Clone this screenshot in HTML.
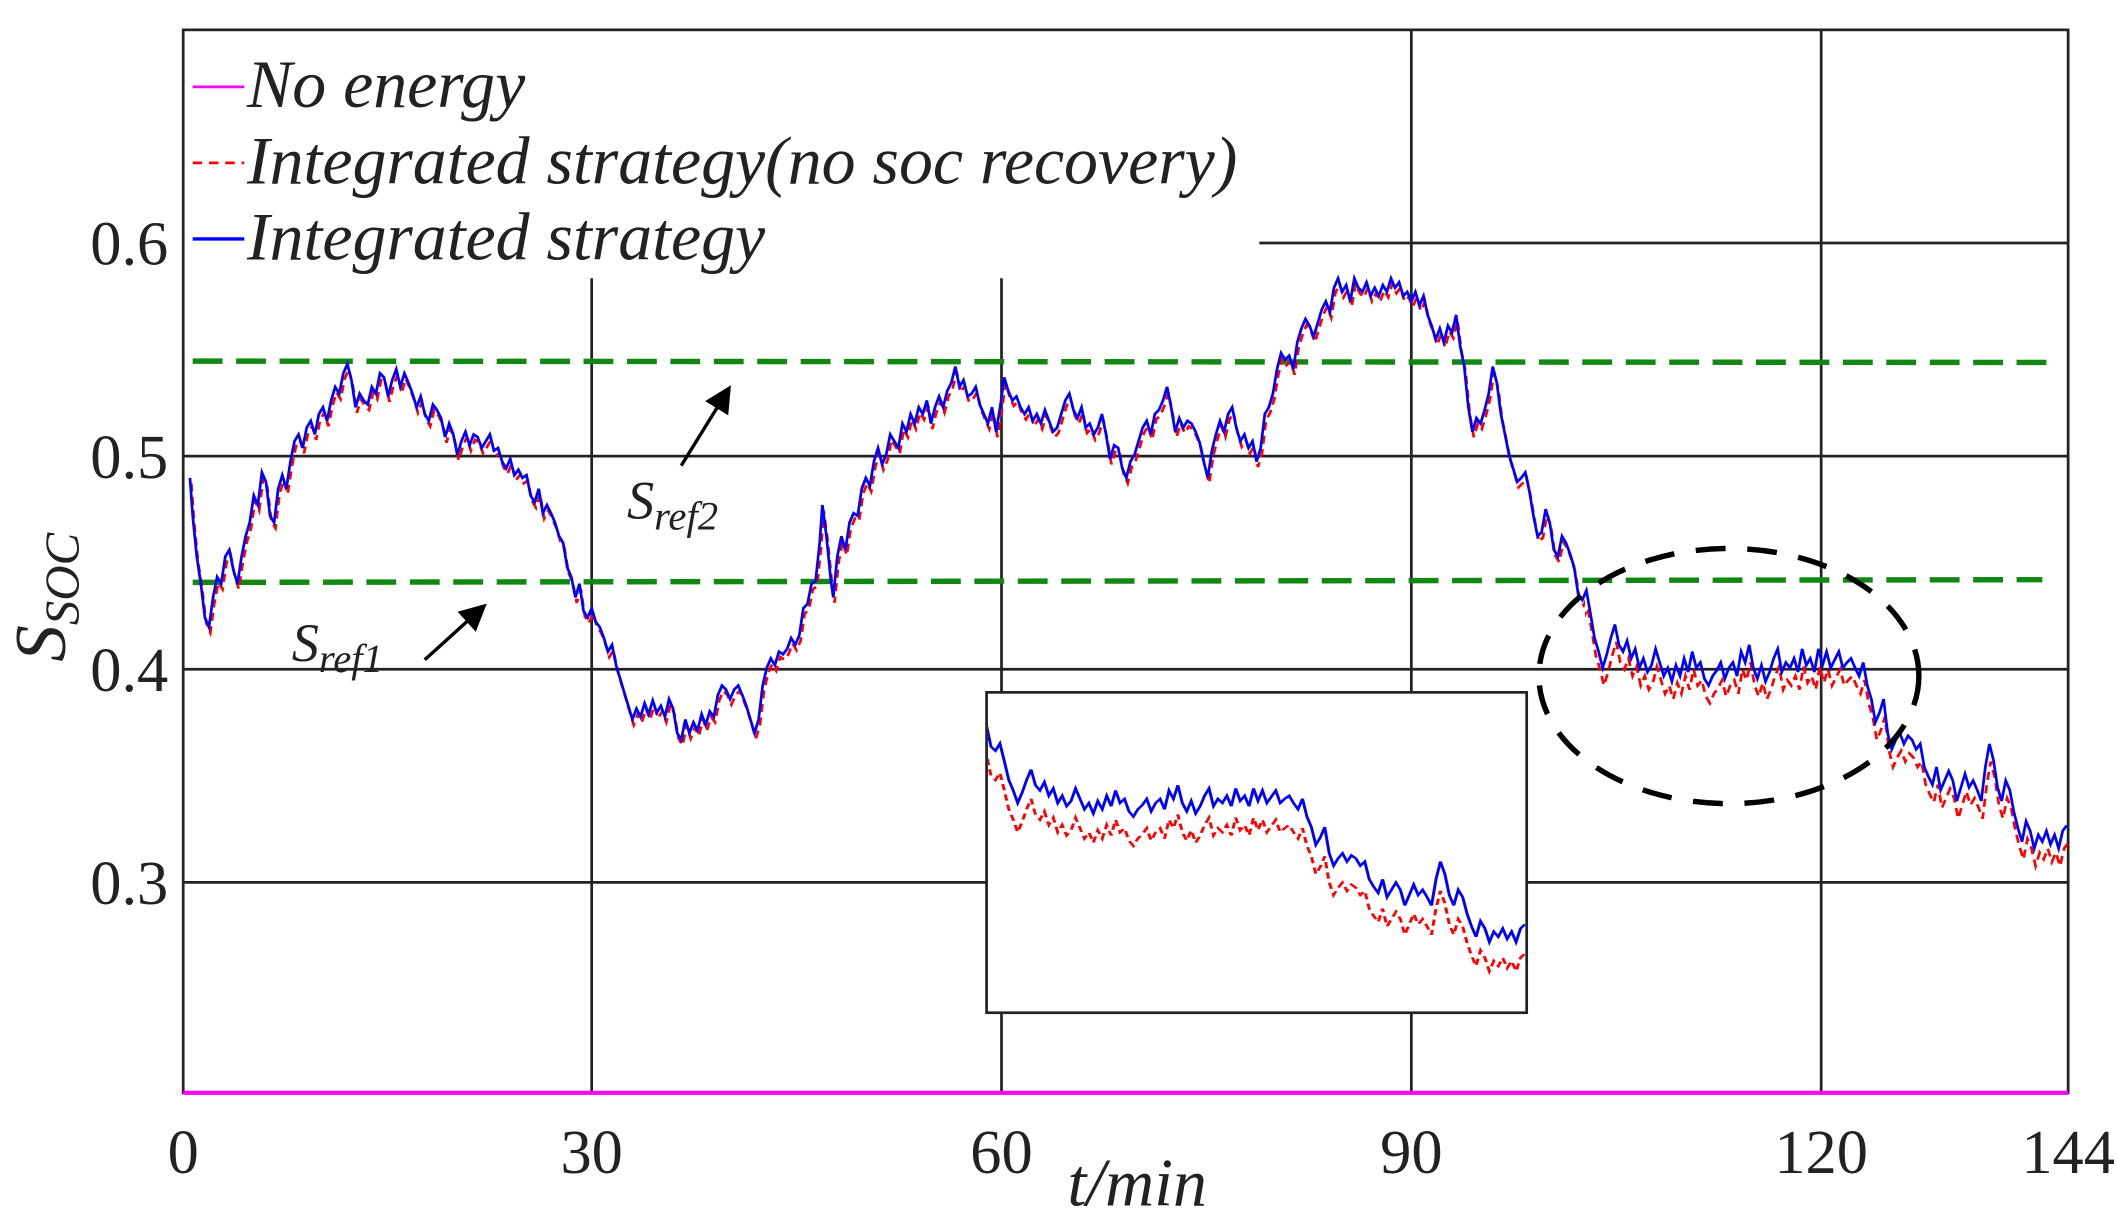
<!DOCTYPE html>
<html><head><meta charset="utf-8"><style>html,body{margin:0;padding:0;background:#fff}svg{display:block}</style></head>
<body>
<svg xmlns="http://www.w3.org/2000/svg" xmlns:xlink="http://www.w3.org/1999/xlink" width="2117" height="1215" viewBox="0 0 1560 895" preserveAspectRatio="none" font-family="'Liberation Serif', serif">
<defs>
<clipPath id="ic"><rect x="728" y="511" width="396" height="234"/></clipPath>
<clipPath id="cl"><rect x="0" y="0" width="1168" height="895"/></clipPath>
<clipPath id="cr"><rect x="1168" y="0" width="400" height="895"/></clipPath>
<marker id="ah" markerWidth="8" markerHeight="8" refX="6" refY="4" orient="auto"><path d="M0,0 L8,4 L0,8 z" fill="#000"/></marker>
<polyline id="b" fill="none" points="140,352 142,380 145,410 148,430 151,455 154,462 157,440 160,425 163,430 166,410 169,405 172,420 175,430 178,410 181,395 184,385 187,365 190,372 193,348 196,355 199,380 202,385 205,360 208,350 211,360 214,340 217,325 220,320 223,330 226,315 229,310 232,320 235,305 238,300 241,310 244,295 247,285 250,290 253,275 256,268 259,280 262,300 265,290 268,295 271,298 274,285 277,290 280,275 283,278 286,292 289,280 292,272 295,285 298,275 301,282 304,290 307,300 310,292 313,305 316,310 319,298 322,302 325,308 328,322 331,312 334,320 337,335 340,325 343,318 346,328 349,320 352,322 355,330 358,325 361,320 364,332 367,330 370,340 373,345 376,338 379,350 382,346 385,352 388,350 391,365 394,370 397,360 400,378 403,372 406,378 409,385 412,395 415,400 418,418 421,425 424,440 427,430 430,450 433,455 436,448 439,458 442,462 445,470 448,480 451,475 454,490 457,500 460,510 463,520 466,530 469,522 472,528 475,518 478,526 481,516 484,525 487,520 490,528 493,515 496,522 499,540 502,545 505,530 508,540 511,532 514,538 517,526 520,534 523,524 526,528 529,512 532,505 535,508 538,515 541,508 544,505 547,512 550,520 553,530 556,540 559,530 562,505 565,492 568,485 571,490 574,480 577,482 580,478 583,470 586,475 589,468 592,448 595,445 598,430 601,428 604,400 606,372 609,395 612,425 614,440 617,410 620,395 623,405 626,385 629,378 632,380 635,360 638,352 641,358 644,340 647,330 650,342 653,335 656,320 659,325 662,330 665,312 668,318 671,305 674,312 677,300 680,305 683,295 686,312 689,300 692,292 695,300 698,288 701,282 704,270 707,285 710,280 713,292 716,290 719,285 722,298 725,305 728,312 731,300 734,318 737,300 740,278 743,288 746,295 749,292 752,300 755,305 758,300 761,310 764,305 767,312 770,302 773,310 776,318 779,315 782,305 785,295 788,290 791,302 794,308 797,300 800,315 803,312 806,320 809,315 812,305 815,320 818,338 821,328 824,330 827,345 830,352 833,340 836,335 839,325 842,315 845,310 848,320 851,305 854,302 857,295 860,285 863,300 866,318 869,308 872,315 875,310 878,312 881,318 884,326 887,340 890,352 893,332 896,320 899,310 902,318 905,305 908,300 911,315 914,325 917,320 920,330 923,325 926,340 929,330 932,305 935,300 938,290 941,272 944,260 947,265 950,262 953,272 956,252 959,242 962,235 965,240 968,248 971,238 974,228 977,222 980,230 983,212 986,205 989,215 992,210 995,222 998,205 1001,212 1004,215 1007,208 1010,218 1013,212 1016,218 1019,210 1022,215 1025,205 1028,212 1031,208 1034,218 1037,215 1040,222 1043,215 1046,225 1049,218 1052,232 1055,240 1058,250 1061,242 1064,252 1067,240 1070,245 1073,232 1076,255 1079,270 1082,300 1085,318 1088,308 1091,312 1094,302 1097,290 1100,270 1103,282 1106,305 1109,320 1112,335 1115,345 1118,355 1121,352 1124,348 1127,362 1130,380 1133,395 1136,392 1139,375 1142,385 1145,405 1148,410 1151,395 1154,400 1157,408 1160,418 1163,438 1166,442 1169,435 1172,452 1175,470 1178,480 1181,492 1184,482 1187,470 1190,460 1193,475 1196,480 1199,472 1202,485 1205,478 1208,492 1211,485 1214,495 1217,490 1220,478 1223,488 1226,498 1229,492 1232,502 1235,490 1238,498 1241,485 1244,495 1247,480 1250,492 1253,488 1256,500 1259,505 1262,498 1265,494 1268,488 1271,500 1274,492 1277,488 1280,498 1283,480 1286,488 1289,475 1292,492 1295,500 1298,490 1301,502 1304,495 1307,485 1310,478 1313,495 1316,488 1319,492 1322,485 1325,495 1328,478 1331,490 1334,485 1337,495 1340,478 1343,490 1346,480 1349,492 1352,486 1355,480 1358,492 1361,488 1364,485 1367,492 1370,498 1373,488 1376,505 1379,515 1382,532 1385,525 1388,515 1391,540 1394,552 1397,545 1400,540 1403,548 1406,542 1409,545 1412,552 1415,548 1418,565 1421,572 1424,578 1427,565 1430,582 1433,575 1436,568 1439,575 1442,590 1445,580 1448,570 1451,580 1454,575 1457,582 1460,590 1463,565 1466,548 1469,560 1472,580 1475,590 1478,575 1481,582 1484,598 1487,610 1490,620 1493,605 1496,612 1499,625 1502,615 1505,620 1508,612 1511,622 1514,615 1517,625 1520,612 1523,608"/>
</defs>
<rect x="0" y="0" width="1560" height="895" fill="#fff"/>
<g stroke="#222" stroke-width="2" fill="none">
<line x1="928" y1="179" x2="1524" y2="179"/>
<line x1="135" y1="336" x2="1524" y2="336"/>
<line x1="135" y1="493" x2="1524" y2="493"/>
<line x1="135" y1="650" x2="727" y2="650"/>
<line x1="1125" y1="650" x2="1524" y2="650"/>
<line x1="436" y1="205" x2="436" y2="805"/>
<line x1="738" y1="205" x2="738" y2="510"/>
<line x1="738" y1="746" x2="738" y2="805"/>
<line x1="1040" y1="22" x2="1040" y2="510"/>
<line x1="1040" y1="746" x2="1040" y2="805"/>
<line x1="1342" y1="22" x2="1342" y2="805"/>
<rect x="135" y="22" width="1389" height="783"/>
</g>
<g stroke="#118811" stroke-width="4" stroke-dasharray="22,10" fill="none">
<line x1="142" y1="266" x2="1512" y2="267"/>
<line x1="142" y1="429" x2="1505" y2="427"/>
</g>
<g clip-path="url(#cl)"><use xlink:href="#b" transform="translate(1,4)" stroke="#f00" stroke-width="2" stroke-dasharray="6,4"/></g>
<g clip-path="url(#cr)"><use xlink:href="#b" transform="translate(1,13)" stroke="#f00" stroke-width="2" stroke-dasharray="6,4"/></g>
<use xlink:href="#b" stroke="#00f" stroke-width="2"/>
<line x1="135" y1="805" x2="1524" y2="805" stroke="#ff00ff" stroke-width="3"/>
<rect x="727" y="510" width="398" height="236" fill="#fff" stroke="#222" stroke-width="2"/>
<g clip-path="url(#ic)">
<g transform="matrix(1.093,0,0,0.77,-540.9,212.7)">
<use xlink:href="#b" transform="translate(0,28)" stroke="#f00" stroke-width="2" stroke-dasharray="6,4" vector-effect="non-scaling-stroke"/>
<use xlink:href="#b" stroke="#00f" stroke-width="2" vector-effect="non-scaling-stroke"/>
</g>
</g>
<ellipse cx="1274" cy="498" rx="140" ry="94" fill="none" stroke="#000" stroke-width="4" stroke-dasharray="22,16"/>
<g stroke="#000" stroke-width="2.5" marker-end="url(#ah)">
<line x1="502" y1="343" x2="536" y2="288"/>
<line x1="313" y1="486" x2="355" y2="448"/>
</g>
<g font-size="46" fill="#222" text-anchor="middle">
<text x="135" y="864">0</text><text x="436" y="864">30</text><text x="738" y="864">60</text>
<text x="1040" y="864">90</text><text x="1342" y="864">120</text><text x="1524" y="864">144</text>
</g>
<g font-size="46" fill="#222" text-anchor="end">
<text x="124" y="195">0.6</text><text x="124" y="352">0.5</text><text x="124" y="509">0.4</text><text x="124" y="666">0.3</text>
</g>
<text x="838" y="888" font-size="50" font-style="italic" text-anchor="middle" fill="#222">t/min</text>
<text transform="translate(48,440) rotate(-90)" font-size="54" font-style="italic" text-anchor="middle" fill="#222">S<tspan font-size="36" dy="10">SOC</tspan></text>
<text x="462" y="382" font-size="40" font-style="italic" fill="#222">S<tspan font-size="30" dy="8">ref2</tspan></text>
<text x="215" y="487" font-size="40" font-style="italic" fill="#222">S<tspan font-size="30" dy="8">ref1</tspan></text>
<g font-size="50" font-style="italic" fill="#222">
<text x="182" y="79">No energy</text>
<text x="182" y="135">Integrated strategy(no soc recovery)</text>
<text x="182" y="191">Integrated strategy</text>
</g>
<line x1="142" y1="64" x2="180" y2="64" stroke="#ff00ff" stroke-width="2"/>
<line x1="142" y1="120" x2="180" y2="120" stroke="#f00" stroke-width="2" stroke-dasharray="7,5"/>
<line x1="142" y1="176" x2="180" y2="176" stroke="#00f" stroke-width="2.5"/>
</svg>
</body></html>
